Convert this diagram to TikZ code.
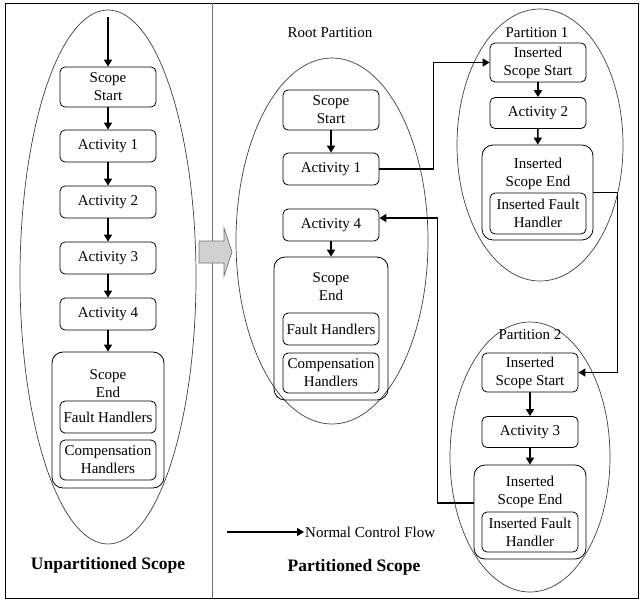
\documentclass[tikz,border=0pt]{standalone}
\usepackage{fontspec}
\setmainfont{Liberation Serif}
\usetikzlibrary{arrows.meta,shapes.geometric,calc}
\newcommand\nfs{\fontsize{15}{18}\selectfont}
\newcommand\tfs{\fontsize{17.5}{20}\selectfont\bfseries}
\tikzset{
  box/.style={draw, rounded corners=5pt, minimum width=96pt, inner sep=0.5pt, align=center, font=\nfs, line width=0.8pt},
  bigbox/.style={draw, rounded corners=11pt, inner sep=0pt, line width=0.8pt},
  lbl/.style={align=center, font=\nfs, inner sep=1pt},
  flow/.style={-{Triangle[length=7pt,width=8pt]}, line width=1.6pt},
  ell/.style={draw=black!75, ellipse, line width=0.7pt, inner sep=0pt},
  title/.style={font=\tfs, inner sep=1pt}
}
\begin{document}
\begin{tikzpicture}[x=1pt,y=-1pt]
\useasboundingbox (0,0) rectangle (642,600);
% frame
\draw[line width=0.9pt] (5,3) rectangle (638,598);
\draw[black!55, line width=0.9pt] (212,3) -- (212,598);
% block arrow
\draw[fill=black!18, draw=black!55, line width=0.7pt] (199,241) -- (224,241) -- (224,228) -- (232,252) -- (224,276) -- (224,263) -- (199,263) -- cycle;

% ---------- Unpartitioned ----------
\node[ell, minimum width=176pt, minimum height=534pt] (E0) at (108,277) {};
\coordinate (st) at (108,17);
\node[box, minimum height=40pt] (s0) at (108,87) {Scope\\Start};
\node[box, minimum height=32pt] (a1) at (108,146) {Activity 1};
\node[box, minimum height=32pt] (a2) at (108,202) {Activity 2};
\node[box, minimum height=32pt] (a3) at (108,258) {Activity 3};
\node[box, minimum height=32pt] (a4) at (108,314) {Activity 4};
\node[bigbox, minimum width=112pt, minimum height=136pt] (se) at (108,420) {};
\node[lbl] (set) at (108,384) {Scope\\End};
\node[box, minimum height=32pt] (fh) at (108,417) {Fault Handlers};
\node[box, minimum height=40pt] (ch) at (108,460) {Compensation\\Handlers};
\draw[flow] (st) -- (s0.north);
\draw[flow] (s0) -- (a1);
\draw[flow] (a1) -- (a2);
\draw[flow] (a2) -- (a3);
\draw[flow] (a3) -- (a4);
\draw[flow] (a4) -- (se);
\node[title] (t0) at (108,565) {Unpartitioned Scope};

% ---------- Root partition ----------
\node[lbl] (rl) at (330,33) {Root Partition};
\node[ell, minimum width=192pt, minimum height=366pt] (E1) at (332,241) {};
\node[box, minimum height=40pt] (rs) at (331,110) {Scope\\Start};
\node[box, minimum height=32pt] (ra1) at (331,169) {Activity 1};
\node[box, minimum height=32pt] (ra4) at (331,225) {Activity 4};
\node[bigbox, minimum width=114pt, minimum height=143pt] (rse) at (331,328.5) {};
\node[lbl] (rset) at (331,287) {Scope\\End};
\node[box, minimum height=32pt] (rfh) at (331,329) {Fault Handlers};
\node[box, minimum height=40pt] (rch) at (331,373) {Compensation\\Handlers};
\draw[flow] (rs) -- (ra1);
\draw[flow] (ra4) -- (rse);

% ---------- Partition 1 ----------
\node[ell, minimum width=166pt, minimum height=272pt] (E2) at (540,145) {};
\node[lbl] (p1l) at (537,33) {Partition 1};
\node[box, minimum height=39pt] (p1s) at (538,62.5) {Inserted\\Scope Start};
\node[box, minimum height=31pt] (p1a) at (538,113) {Activity 2};
\node[bigbox, minimum width=111pt, minimum height=95pt] (p1se) at (537.5,192.5) {};
\node[lbl] (p1set) at (538,174) {Inserted\\Scope End};
\node[box, minimum height=41pt] (p1fh) at (538,213.5) {Inserted Fault\\Handler};
\draw[flow] (p1s) -- (p1a);
\draw[flow] (p1a) -- (p1se);

% ---------- Partition 2 ----------
\node[ell, minimum width=160pt, minimum height=270pt] (E3) at (530,457) {};
\node[lbl] (p2l) at (530,335) {Partition 2};
\node[box, minimum height=39pt] (p2s) at (530,372.5) {Inserted\\Scope Start};
\node[box, minimum height=31pt] (p2a) at (530,432) {Activity 3};
\node[bigbox, minimum width=112pt, minimum height=94pt] (p2se) at (530,512) {};
\node[lbl] (p2set) at (530,492) {Inserted\\Scope End};
\node[box, minimum height=40pt] (p2fh) at (530,532) {Inserted Fault\\Handler};
\draw[flow] (p2s) -- (p2a);
\draw[flow] (p2a) -- (p2se);

% ---------- cross connectors ----------
\draw[flow] (ra1.east) -| ($(p1s.west)+(-56,0)$) |- (p1s.west);
\draw[flow] (p1se.east) -| ($(p2s.east)+(39,0)$) |- (p2s.east);
\draw[flow] ($(p2se.west)+(0,-9)$) -| ($(ra4.east)+(58,-7)$) |- ($(ra4.east)+(0,-7)$);

% ---------- legend ----------
\coordinate (lg) at (227,532);
\node[lbl, anchor=west] (lgt) at (304,532) {Normal Control Flow};
\draw[flow, line width=1.3pt] (lg) -- (lgt.west);
\node[title] (t1) at (354,567) {Partitioned Scope};
\end{tikzpicture}
\end{document}
